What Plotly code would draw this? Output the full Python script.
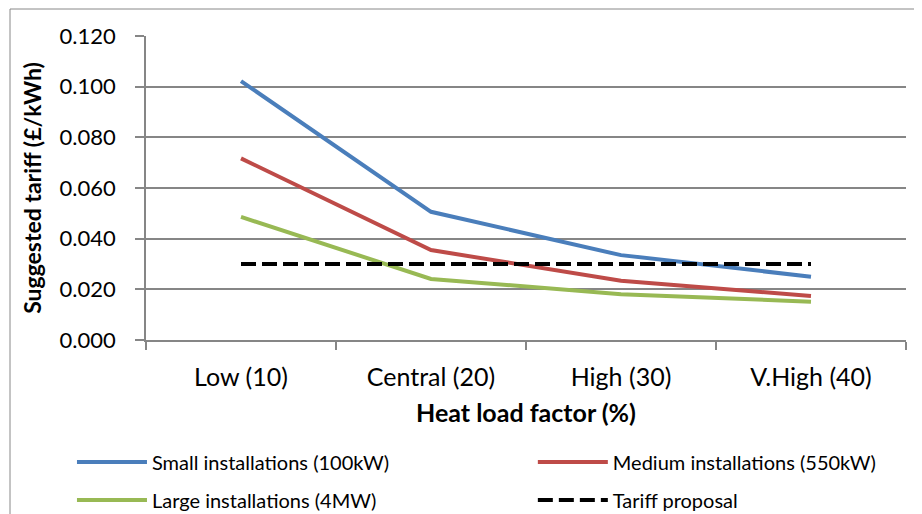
import plotly.graph_objects as go

categories = ["Low (10)", "Central (20)", "High (30)", "V.High (40)"]
small = [0.1022, 0.0506, 0.0335, 0.0250]
medium = [0.0717, 0.0355, 0.0234, 0.0174]
large = [0.0486, 0.0241, 0.0181, 0.0151]
tariff = [0.030, 0.030, 0.030, 0.030]
y_ticks = [0.0, 0.02, 0.04, 0.06, 0.08, 0.10, 0.12]

FONT = "Lato"
fig = go.Figure()
fig.add_trace(go.Scatter(x=categories, y=small, mode="lines", name="Small installations (100kW)",
                         line=dict(color="#4A7EBB", width=4), legend="legend"))
fig.add_trace(go.Scatter(x=categories, y=medium, mode="lines", name="Medium installations (550kW)",
                         line=dict(color="#BE4B48", width=4), legend="legend2"))
fig.add_trace(go.Scatter(x=categories, y=large, mode="lines", name="Large installations (4MW)",
                         line=dict(color="#98B954", width=4), legend="legend3"))
fig.add_trace(go.Scatter(x=categories, y=tariff, mode="lines", name="Tariff proposal",
                         line=dict(color="#000000", width=4, dash="15px,6px"), legend="legend4"))

col1 = -0.0974
col2 = 0.509
row1 = (340 - 462) / 304
row2 = (340 - 500) / 304
leg_common = dict(orientation="h", xanchor="left", yanchor="middle", itemwidth=70,
                  font=dict(size=20, family=FONT), bgcolor="rgba(0,0,0,0)")

fig.update_layout(
    width=914, height=506,
    margin=dict(l=138, r=16, t=28, b=174, autoexpand=False),
    paper_bgcolor="white", plot_bgcolor="white",
    font=dict(family=FONT, color="#000000"),
    showlegend=True,
    legend=dict(x=col1, y=row1, **leg_common),
    legend2=dict(x=col2, y=row1, **leg_common),
    legend3=dict(x=col1, y=row2, **leg_common),
    legend4=dict(x=col2, y=row2, **leg_common),
    shapes=[dict(type="rect", xref="paper", yref="paper",
                 x0=-136/760, x1=1.1, y0=-0.7, y1=1 + 27/304,
                 line=dict(color="#888888", width=1), fillcolor="rgba(0,0,0,0)", layer="below")],
)
fig.update_xaxes(type="category", tickson="boundaries", ticks="outside", ticklen=8,
                 tickcolor="#868686", tickwidth=1.5, showline=True, linecolor="#868686", linewidth=1.5,
                 showgrid=False, tickfont=dict(size=25, family=FONT), ticklabelstandoff=14,
                 title=dict(text="<b>Heat load factor (%)</b>", font=dict(size=25, family=FONT), standoff=15),
                 range=[-0.5, 3.5])
fig.update_yaxes(range=[0, 0.12], tickvals=y_ticks, tickformat=".3f", ticks="outside", ticklen=9,
                 tickcolor="#868686", tickwidth=1.5, showline=True, linecolor="#868686", linewidth=1.5,
                 showgrid=True, gridcolor="#868686", gridwidth=1.5, zeroline=False,
                 tickfont=dict(size=22, family=FONT), ticklabelstandoff=15,
                 title=dict(text="<b>Suggested tariff (£/kWh)</b>", font=dict(size=23, family=FONT), standoff=12))

fig.write_html("out.html")
